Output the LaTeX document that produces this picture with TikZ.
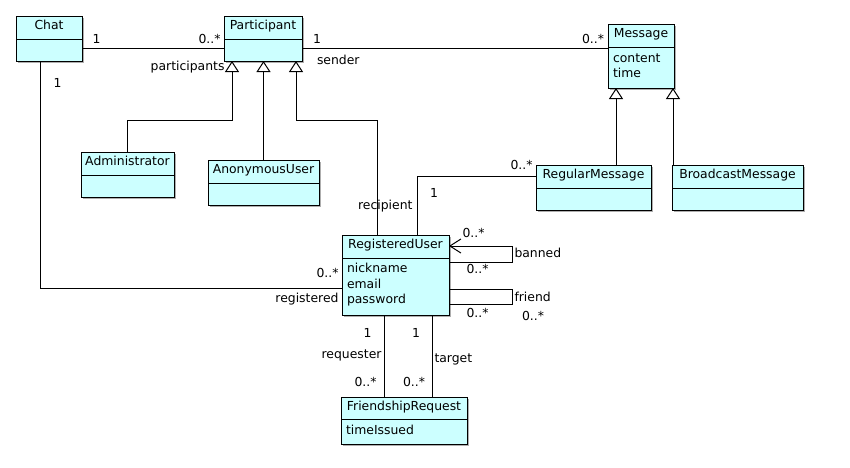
\documentclass[tikz,border=0pt]{standalone}
\usepackage{fontspec}
\setmainfont{DejaVu Sans}
\usetikzlibrary{arrows.meta,shadows,calc}
\definecolor{umlfill}{RGB}{204,255,255}
\newcommand\umlfont{\fontsize{12.4}{15}\selectfont}
\newcommand\umlclass[7]{%
  \node[cls, minimum width=#4pt, minimum height=#5pt] (#1) at (#2,#3) {};
  \draw ($(#1.north west)+(0,#6)$) -- ($(#1.north east)+(0,#6)$);
  \node[ttl] (#1-t) at ($(#1.north)+(0,13)$) {#7};
}
\begin{document}
\begin{tikzpicture}[x=1pt,y=-1pt,line width=1pt,
  cls/.style={draw, fill=umlfill, inner sep=0pt, outer sep=0pt, anchor=north west,
    drop shadow={shadow xshift=1.5pt, shadow yshift=-1.5pt, fill=black!45, opacity=0.7}},
  ttl/.style={anchor=base, inner sep=0pt, font=\umlfont},
  attr/.style={anchor=base west, inner sep=0pt, font=\umlfont},
  lblw/.style={anchor=base west, inner sep=0pt, font=\umlfont},
  lble/.style={anchor=base east, inner sep=0pt, font=\umlfont},
  gen/.style={-{Triangle[open, length=11pt, width=14pt]}},
  nav/.style={-{Straight Barb[length=11pt, width=14pt]}}
]
\useasboundingbox[fill=white] (0,0) rectangle (850,467);

% classes
\umlclass{chat}{16}{16}{66}{45}{23}{Chat}
\umlclass{part}{224}{16}{78}{45}{23}{Participant}
\umlclass{msg}{608}{24}{66}{64}{23}{Message}
\umlclass{admin}{81}{152}{93}{45}{23}{Administrator}
\umlclass{anon}{208}{160}{111}{45}{23}{AnonymousUser}
\umlclass{regmsg}{536}{165}{115}{45}{23}{RegularMessage}
\umlclass{bcast}{672}{165}{131}{45}{23}{BroadcastMessage}
\umlclass{reguser}{342}{235}{107}{80}{23}{RegisteredUser}
\umlclass{freq}{341}{397}{126}{47}{22}{FriendshipRequest}

% attributes
\node[attr] (msg-a1) at (612.5,62) {content};
\node[attr] (msg-a2) at (612.5,77.5) {time};
\node[attr] (ru-a1) at (346.5,272.5) {nickname};
\node[attr] (ru-a2) at (346.5,288) {email};
\node[attr] (ru-a3) at (346.5,303.5) {password};
\node[attr] (fr-a1) at (345.5,434) {timeIssued};

% Chat -- Participant
\draw ($(chat.north east)+(0,32)$) -- ($(part.north west)+(0,32)$);
\node[lblw] (l1) at (92,43) {1};
\node[lble] (l2) at (221,43) {0..*};
\node[lble] (l3) at (225,70) {participants};

% Participant -- Message
\draw ($(part.north east)+(0,32)$) -- ($(msg.north west)+(0,24)$);
\node[lblw] (l4) at (312.5,43) {1};
\node[lblw] (l5) at (316.5,64) {sender};
\node[lble] (l6) at (604.5,43) {0..*};

% Chat -- RegisteredUser
\draw ($(chat.south west)+(24,0)$) |- ($(reguser.north west)+(0,53)$);
\node[lblw] (l7) at (53,87) {1};
\node[lble] (l8) at (339,277.5) {0..*};
\node[lble] (l9) at (339,302) {registered};

% generalizations to Participant
\draw[gen] (admin.north) -- ++(0,-32) -| ($(part.south west)+(8,0)$);
\draw[gen] (anon.north) -- (anon.north |- part.south);
\draw[gen] ($(reguser.north west)+(35,0)$) -- ++(0,-115) -| ($(part.south west)+(72,0)$);

% generalizations to Message
\coordinate (g1) at ($(msg.south west)+(8,0)$);
\coordinate (g2) at ($(msg.south west)+(65,0)$);
\draw[gen] (g1 |- regmsg.north) -- (g1);
\draw[gen] (g2 |- bcast.north) -- (g2);

% recipient
\draw ($(reguser.north west)+(75,0)$) |- ($(regmsg.north west)+(0,11)$);
\node[lble] (l10) at (533,169.5) {0..*};
\node[lblw] (l11) at (429.5,197) {1};
\node[lble] (l12) at (413,209) {recipient};

% banned
\draw[nav] ($(reguser.north east)+(0,27)$) -- ++(63,0) |- ($(reguser.north east)+(0,11)$);
\node[lblw] (l13) at (462,237) {0..*};
\node[lblw] (l14) at (466,273) {0..*};
\node[lblw] (l15) at (514,257) {banned};

% friend
\draw ($(reguser.north east)+(0,54)$) -- ++(63,0) |- ($(reguser.north east)+(0,69)$);
\node[lblw] (l16) at (514,301) {friend};
\node[lblw] (l17) at (466,317) {0..*};
\node[lblw] (l18) at (521.5,320) {0..*};

% requester / target
\draw ($(reguser.south west)+(42,0)$) -- ($(freq.north west)+(43,0)$);
\draw ($(reguser.south west)+(90,0)$) -- ($(freq.north west)+(91,0)$);
\node[lblw] (l19) at (363,337) {1};
\node[lble] (l20) at (382,358) {requester};
\node[lble] (l21) at (377,386) {0..*};
\node[lblw] (l22) at (411.5,337) {1};
\node[lblw] (l23) at (434,362) {target};
\node[lble] (l24) at (425.5,386) {0..*};
\end{tikzpicture}
\end{document}
